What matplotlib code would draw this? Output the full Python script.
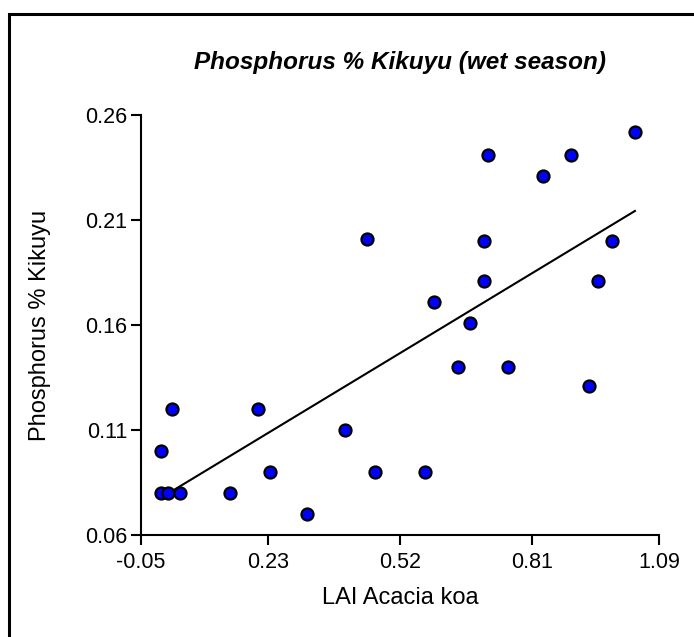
import matplotlib.pyplot as plt
import numpy as np
from matplotlib.patches import Rectangle

plt.rcParams["font.family"] = ["Liberation Sans", "DejaVu Sans"]

# LAI of Acacia koa vs phosphorus % in kikuyu (wet season)
lai = [-0.006, -0.006, 0.009, 0.018, 0.036, 0.146, 0.207, 0.234, 0.315,
       0.399, 0.465, 0.447, 0.575, 0.595, 0.648, 0.674, 0.705, 0.705,
       0.714, 0.758, 0.835, 0.896, 0.936, 0.956, 0.987, 1.037]
phos = [0.100, 0.080, 0.080, 0.120, 0.080, 0.080, 0.120, 0.090, 0.070,
        0.110, 0.090, 0.201, 0.090, 0.171, 0.140, 0.161, 0.200, 0.181,
        0.241, 0.140, 0.231, 0.241, 0.131, 0.181, 0.200, 0.252]

x_ticks = [-0.05, 0.23, 0.52, 0.81, 1.09]
y_ticks = [0.06, 0.11, 0.16, 0.21, 0.26]
x_tick_labels = ["-0.05", "0.23", "0.52", "0.81", "1.09"]
y_tick_labels = ["0.06", "0.11", "0.16", "0.21", "0.26"]

fig = plt.figure(figsize=(6.94, 6.37), dpi=100)
ax = fig.add_axes([0.2032, 0.1601, 0.7464, 0.6594])

x = np.array(lai)
y = np.array(phos)
slope, intercept = np.polyfit(x, y, 1)
xl = np.array([x.min(), x.max()])
ax.plot(xl, slope * xl + intercept, color="black", lw=1.5, zorder=2)

ax.scatter(x, y, s=75, color="#0000ff", edgecolors="black", linewidths=1.6,
           zorder=3, clip_on=False)

ax.set_xlim(x_ticks[0], x_ticks[-1])
ax.set_ylim(y_ticks[0], y_ticks[-1])
ax.set_xticks(x_ticks)
ax.set_xticklabels(x_tick_labels)
ax.set_yticks(y_ticks)
ax.set_yticklabels(y_tick_labels)

for side in ["top", "right"]:
    ax.spines[side].set_visible(False)
for side in ["left", "bottom"]:
    ax.spines[side].set_linewidth(1.5)
ax.tick_params(direction="out", length=7, width=1.5, labelsize=15.5, pad=3)
ax.tick_params(axis="x", pad=5)

ax.set_xlabel("LAI Acacia koa", fontsize=17, va="center")
ax.xaxis.set_label_coords(0.5, -0.15)
ax.set_ylabel("Phosphorus % Kikuyu", fontsize=17, va="center")
ax.yaxis.set_label_coords(-0.195, 0.5)
ax.text(0.5, 1.126, "Phosphorus % Kikuyu (wet season)", transform=ax.transAxes,
        ha="center", va="center", fontsize=17.5, fontweight="bold",
        fontstyle="italic")

# outer frame around the figure (right/bottom edges fall outside the image)
fig.patches.append(Rectangle((9 / 694, -0.05), 1.2, (637 - 14) / 637 + 0.05,
                             transform=fig.transFigure, fill=False,
                             edgecolor="black", lw=2.2))

fig.savefig("out.png", dpi=100)
